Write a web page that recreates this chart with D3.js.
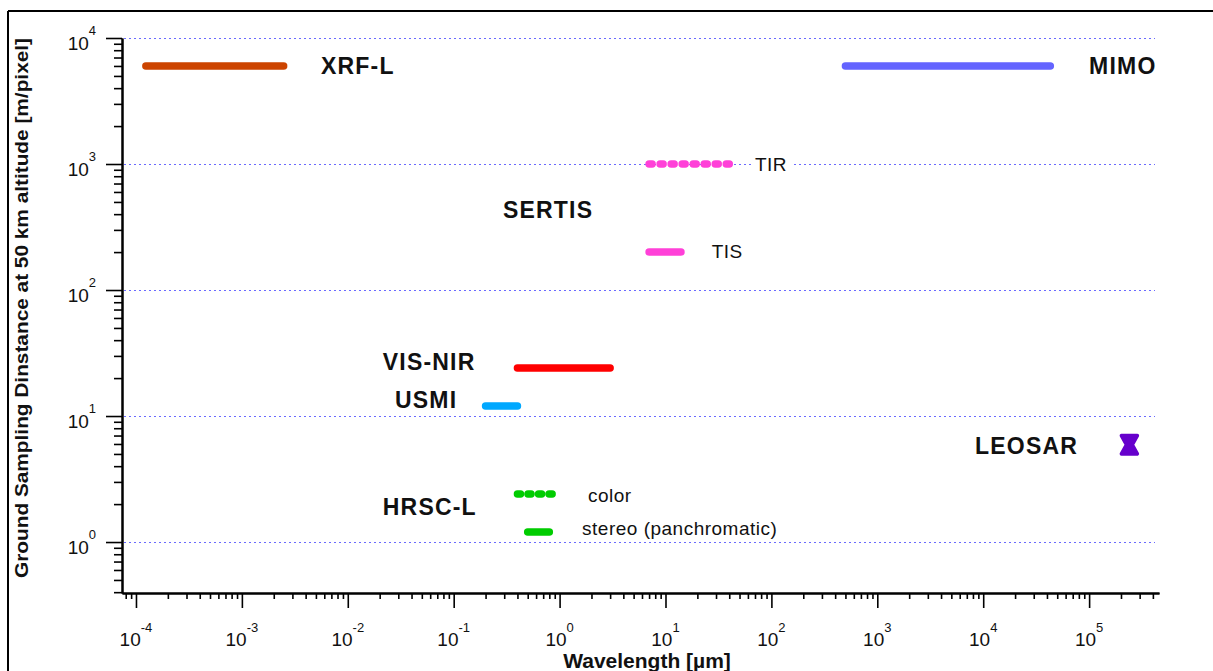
<!DOCTYPE html>
<html><head><meta charset="utf-8">
<script src="https://cdn.jsdelivr.net/npm/d3@7"></script>
<style>
html,body{margin:0;padding:0;background:#fff;}
svg{display:block;font-family:"Liberation Sans",Arial,Helvetica,sans-serif;}
</style></head><body>
<svg id="chart" width="1213" height="671"></svg>
<script>
// Wavelength coverage and ground sampling distance of each instrument channel
const bands = ["XRF-L", "MIMO", "TIR", "TIS", "VIS-NIR", "USMI", "HRSC color", "HRSC stereo"];
const wavelengthFrom = [1.24e-4, 500, 7, 7, 0.4, 0.2, 0.4, 0.5];      // µm
const wavelengthTo   = [2.48e-3, 43000, 40, 14, 3, 0.4, 0.85, 0.8];   // µm
const groundSampling = [6000, 6000, 1000, 200, 24, 12, 2.4, 1.2];     // m/pixel

// LEOSAR: one wavelength, a span of sampling distances
const leosarWavelength = 2.4e5;
const leosarSampling = [5, 7];

// decade exponents used for the tick labels
const xTickExponents = [-4, -3, -2, -1, 0, 1, 2, 3, 4, 5];
const yTickExponents = [0, 1, 2, 3, 4];

// instrument names, anchored at (wavelength, sampling distance)
const instrumentNames = ["XRF-L", "MIMO", "SERTIS", "VIS-NIR", "USMI", "HRSC-L", "LEOSAR"];
const instrumentNameWavelength = [0.00558, 1e5, 0.292, 0.0214, 0.0279, 0.0214, 8380];
const instrumentNameSampling = [6000, 6000, 436, 26.8, 13.4, 1.9, 5.78];

// channel names
const channelNames = ["TIR", "TIS", "color", "stereo (panchromatic)"];
const channelNameWavelength = [70, 27.3, 1.85, 1.63];
const channelNameSampling = [1000, 204, 2.36, 1.29];

// ---------------------------------------------------------------
const bandStyle = {
  "XRF-L":       { color: "#cc4400" },
  "MIMO":        { color: "#6464ff" },
  "TIR":         { color: "#ff40d8", dotted: true },
  "TIS":         { color: "#ff40d8" },
  "VIS-NIR":     { color: "#ff0000" },
  "USMI":        { color: "#00a8ff" },
  "HRSC color":  { color: "#00cc00", dotted: true },
  "HRSC stereo": { color: "#00cc00" }
};

const svg = d3.select("#chart");
const plotLeft = 122, plotRight = 1159, plotTop = 38, plotBottom = 593;

const x = d3.scaleLog().domain([7.38e-5, 4.57e5]).range([plotLeft, plotRight]);
const y = d3.scaleLog().domain([0.394, 1e4]).range([plotBottom, plotTop]);

function minorTicks(scale) {
  const [a, b] = scale.domain();
  const out = [];
  for (let e = Math.floor(Math.log10(a)); e <= Math.ceil(Math.log10(b)); e++) {
    for (let k = 2; k <= 9; k++) {
      const v = k * Math.pow(10, e);
      if (v >= a && v <= b) out.push(v);
    }
  }
  return out;
}

// frame
svg.append("line").attr("x1", 8).attr("x2", 1213).attr("y1", 11).attr("y2", 11)
  .attr("stroke", "#000").attr("stroke-width", 2);
svg.append("line").attr("x1", 8).attr("x2", 8).attr("y1", 11).attr("y2", 671)
  .attr("stroke", "#000").attr("stroke-width", 2);

// dotted grid at each decade (snapped to the pixel grid so the dots stay crisp)
svg.append("g").attr("shape-rendering", "crispEdges").selectAll("line")
  .data(yTickExponents.map(e => Math.pow(10, e)))
  .join("line")
  .attr("x1", plotLeft + 2).attr("x2", 1155)
  .attr("y1", d => Math.round(y(d)) + 0.5).attr("y2", d => Math.round(y(d)) + 0.5)
  .attr("stroke", "#6a6aff").attr("stroke-width", 1)
  .attr("stroke-dasharray", "2,3");

// axes
const xMajor = xTickExponents.map(e => Math.pow(10, e));
const yMajor = yTickExponents.map(e => Math.pow(10, e));

function styleAxis(g) {
  g.selectAll("path.domain").attr("stroke", "#000").attr("stroke-width", 2);
  g.selectAll(".tick line").attr("stroke", "#000").attr("stroke-width", 1.6);
}

svg.append("g").attr("transform", `translate(0,${plotBottom})`)
  .call(d3.axisBottom(x).tickValues(minorTicks(x)).tickSize(6).tickSizeOuter(0).tickFormat(""))
  .call(styleAxis);
svg.append("g").attr("transform", `translate(0,${plotBottom})`)
  .call(d3.axisBottom(x).tickValues(xMajor).tickSize(15).tickSizeOuter(0).tickFormat(""))
  .call(styleAxis);
svg.append("g").attr("transform", `translate(${plotLeft},0)`)
  .call(d3.axisLeft(y).tickValues(minorTicks(y)).tickSize(8).tickSizeOuter(0).tickFormat(""))
  .call(styleAxis);
svg.append("g").attr("transform", `translate(${plotLeft},0)`)
  .call(d3.axisLeft(y).tickValues(yMajor).tickSize(16).tickSizeOuter(0).tickFormat(""))
  .call(styleAxis);

// tick labels: 10 with superscript exponent
const xl = svg.append("g").selectAll("text").data(xTickExponents).join("text")
  .attr("x", e => x(Math.pow(10, e))).attr("y", 646)
  .attr("text-anchor", "middle").attr("fill", "#111");
xl.append("tspan").attr("font-size", 19).text("10");
xl.append("tspan").attr("font-size", 13).attr("dy", -14).text(e => String(e));

const yl = svg.append("g").selectAll("text").data(yTickExponents).join("text")
  .attr("x", 96).attr("y", e => y(Math.pow(10, e)) + 12)
  .attr("text-anchor", "end").attr("fill", "#111");
yl.append("tspan").attr("font-size", 19).text("10");
yl.append("tspan").attr("font-size", 13).attr("dy", -15).text(e => String(e));

// axis titles
svg.append("text").attr("x", 647).attr("y", 668).attr("text-anchor", "middle")
  .attr("font-size", 21).attr("font-weight", "bold").attr("fill", "#111")
  .text("Wavelength [µm]");
svg.append("text")
  .attr("transform", "translate(28,308) rotate(-90)")
  .attr("text-anchor", "middle").attr("font-size", 19).attr("font-weight", "bold")
  .attr("fill", "#111").attr("textLength", 540).attr("lengthAdjust", "spacingAndGlyphs")
  .text("Ground Sampling Dinstance at 50 km altitude [m/pixel]");

// channel names (TIR sits on a grid line, so it gets a white backing)
const ch = svg.append("g").selectAll("g").data(channelNames).join("g");
ch.append("text")
  .attr("x", (d, i) => x(channelNameWavelength[i]))
  .attr("y", (d, i) => y(channelNameSampling[i]))
  .attr("dy", "0.36em")
  .attr("font-size", 19).attr("letter-spacing", 0.5).attr("fill", "#111")
  .text(d => d);
ch.each(function (d) {
  if (d !== "TIR") return;
  const g = d3.select(this);
  const bb = g.select("text").node().getBBox();
  g.insert("rect", "text").attr("x", bb.x - 4).attr("y", bb.y)
    .attr("width", bb.width + 8).attr("height", bb.height).attr("fill", "#fff");
});

// range bars; dotted channels are drawn as a row of short rounded dashes
const bandData = bands.map((b, i) => ({
  name: b, from: wavelengthFrom[i], to: wavelengthTo[i], gsd: groundSampling[i]
}));
const dashLen = 3;
svg.append("g").selectAll("line").data(bandData).join("line")
  .attr("x1", d => x(d.from)).attr("x2", d => x(d.to))
  .attr("y1", d => y(d.gsd)).attr("y2", d => y(d.gsd))
  .attr("stroke", d => bandStyle[d.name].color)
  .attr("stroke-width", 7.5).attr("stroke-linecap", "round")
  .attr("stroke-dasharray", d => {
    if (!bandStyle[d.name].dotted) return null;
    const len = x(d.to) - x(d.from);
    const n = Math.max(1, Math.round((len - dashLen) / 11.3));
    const step = (len - dashLen) / n;
    return `${dashLen},${step - dashLen}`;
  });

// LEOSAR: hourglass marker spanning its sampling range
{
  const cx = x(leosarWavelength);
  const y1 = y(leosarSampling[1]), y2 = y(leosarSampling[0]);
  const ym = (y1 + y2) / 2;
  const w = 8, n = 3;
  svg.append("path")
    .attr("d", `M${cx - w},${y1} L${cx + w},${y1} L${cx + n},${ym} L${cx + w},${y2} L${cx - w},${y2} L${cx - n},${ym} Z`)
    .attr("fill", "#6600cc").attr("stroke", "#6600cc")
    .attr("stroke-width", 3.5).attr("stroke-linejoin", "round");
}

// instrument names
svg.append("g").selectAll("text").data(instrumentNames).join("text")
  .attr("x", (d, i) => x(instrumentNameWavelength[i]))
  .attr("y", (d, i) => y(instrumentNameSampling[i]))
  .attr("dy", "0.36em")
  .attr("font-size", 23).attr("font-weight", "bold").attr("letter-spacing", 1.2)
  .attr("fill", "#111")
  .text(d => d);
</script>
</body></html>
